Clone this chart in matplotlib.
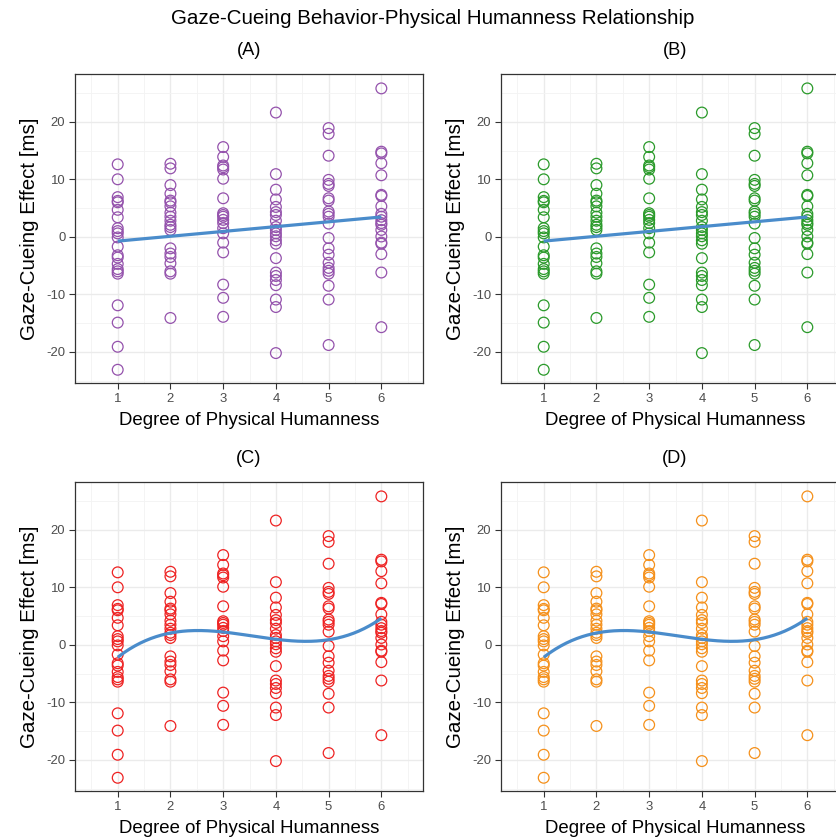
import numpy as np
import matplotlib
matplotlib.use("Agg")
import matplotlib.pyplot as plt
from matplotlib import font_manager as fm
from matplotlib.ticker import MultipleLocator

_names = {f.name for f in fm.fontManager.ttflist}
if 'Liberation Sans Narrow' in _names:
    FAMILY = ['Liberation Sans Narrow', 'DejaVu Sans']
    K = 1.0
else:
    FAMILY = ['Liberation Sans', 'DejaVu Sans']
    K = 0.82
plt.rcParams['font.family'] = FAMILY
plt.rcParams['axes.unicode_minus'] = False
YFAMILY = ['Liberation Sans', 'DejaVu Sans']

# Data: gaze-cueing effect (ms) per degree of physical humanness
humanness_levels = [1, 2, 3, 4, 5, 6]
effect_h1 = [12.6, 10.0, 6.9, 6.25, 6.0, 4.7, 3.4, 1.5, 1.0, 0.6, -0.1, -1.7, -3.2, -3.6,
             -4.7, -5.6, -6.0, -6.4, -11.9, -14.9, -19.1, -23.1]
effect_h2 = [12.7, 11.9, 9.0, 7.5, 6.3, 6.0, 5.3, 4.2, 3.5, 2.8, 2.1, 1.7, 1.2, -2.0,
             -2.9, -3.5, -4.6, -6.0, -6.4, -14.1]
effect_h3 = [15.6, 13.9, 12.4, 12.1, 11.7, 10.1, 6.7, 4.1, 3.8, 3.5, 2.95, 2.4, 1.5, 0.6,
             -1.0, -2.7, -8.3, -10.6, -13.9]
effect_h4 = [21.6, 10.9, 8.2, 6.5, 5.2, 4.3, 3.8, 2.8, 1.7, 1.2, 0.6, 0.1, -0.6, -1.2,
             -3.7, -6.2, -6.8, -7.5, -8.4, -10.9, -12.2, -20.2]
effect_h5 = [18.9, 17.9, 14.1, 9.9, 9.2, 8.85, 6.7, 6.3, 4.4, 4.0, 3.5, 2.3, -0.2, -2.0,
             -3.1, -4.5, -5.4, -5.9, -6.4, -8.5, -10.9, -18.8]
effect_h6 = [25.8, 14.8, 14.5, 12.8, 10.7, 7.3, 7.1, 5.3, 4.0, 3.5, 2.9, 2.4, 2.1, 1.2,
             0.06, -1.0, -1.2, -3.0, -6.2, -15.7]

panel_titles = ["(A)", "(B)", "(C)", "(D)"]
panel_colors = ["#9452AC", "#2A9A2A", "#EE2222", "#F5901A"]
fit_degrees = [1, 1, 3, 3]

groups = [effect_h1, effect_h2, effect_h3, effect_h4, effect_h5, effect_h6]
x = np.concatenate([[lvl] * len(g) for lvl, g in zip(humanness_levels, groups)]).astype(float)
y = np.concatenate(groups).astype(float)

W, H = 836, 839
fig = plt.figure(figsize=(W / 100, H / 100), dpi=100)

def rect(l, r, t, b):
    return [l / W, 1 - b / H, (r - l) / W, (b - t) / H]

rects = [rect(75, 423, 74, 383), rect(501, 849, 74, 383),
         rect(75, 423, 482, 791), rect(501, 849, 482, 791)]

line_col = "#4A8CCB"
for i, r in enumerate(rects):
    ax = fig.add_axes(r)
    ax.set_xlim(0.19, 6.79)
    ax.set_ylim(-25.4, 28.3)
    ax.xaxis.set_major_locator(MultipleLocator(1))
    ax.xaxis.set_minor_locator(MultipleLocator(0.5))
    ax.yaxis.set_major_locator(MultipleLocator(10))
    ax.yaxis.set_minor_locator(MultipleLocator(5))
    ax.grid(which='major', color='#EBEBEB', lw=1.0, zorder=0)
    ax.grid(which='minor', color='#F3F3F3', lw=0.6, zorder=0)
    ax.set_axisbelow(True)
    for s in ax.spines.values():
        s.set_color('#333333')
        s.set_linewidth(0.9)
    ax.tick_params(which='major', length=4, width=0.8, color='#333333',
                   labelsize=11.5 * K, labelcolor='#4D4D4D', pad=3)
    ax.tick_params(which='minor', length=0)
    ax.scatter(x, y, s=60, facecolors='none', edgecolors=panel_colors[i],
               linewidths=0.9, zorder=3)
    coef = np.polyfit(x, y, fit_degrees[i])
    xs = np.linspace(1, 6, 200)
    ax.plot(xs, np.polyval(coef, xs), color=line_col, lw=2.3, zorder=4,
            solid_capstyle='butt')
    ax.set_title(panel_titles[i], fontsize=16 * K, pad=14, color='black')
    ax.set_xlabel("Degree of Physical Humanness", fontsize=16.4 * K, labelpad=5)
    ax.set_ylabel("Gaze-Cueing Effect [ms]", fontsize=14.8, family=YFAMILY,
                  labelpad=5)

fig.text(433 / W, 1 - 18 / H, "Gaze-Cueing Behavior-Physical Humanness Relationship",
         ha='center', va='center', fontsize=18 * K)

fig.savefig("out.png", dpi=100)
